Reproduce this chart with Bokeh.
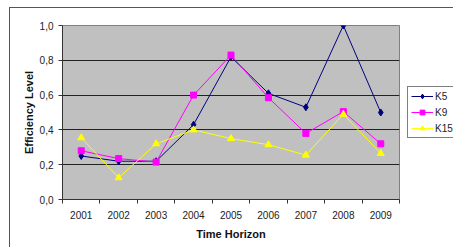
from bokeh.plotting import figure
from bokeh.models import (FixedTicker, CustomJSTickFormatter, Legend, LegendItem,
                          Range1d, ColumnDataSource)
from bokeh.embed import file_html
from bokeh.resources import INLINE

years = ["2001", "2002", "2003", "2004", "2005", "2006", "2007", "2008", "2009"]
k5 = [0.25, 0.22, 0.22, 0.43, 0.82, 0.61, 0.53, 1.00, 0.50]
k9 = [0.28, 0.235, 0.215, 0.60, 0.83, 0.585, 0.38, 0.505, 0.32]
k15 = [0.355, 0.125, 0.32, 0.40, 0.35, 0.315, 0.255, 0.49, 0.265]
y_ticks = [0.0, 0.2, 0.4, 0.6, 0.8, 1.0]

xpos = list(range(1, len(years) + 1))
src = ColumnDataSource(dict(x=xpos, k5=k5, k9=k9, k15=k15))

p = figure(frame_width=337, frame_height=174, output_backend="svg", toolbar_location=None,
           x_range=Range1d(0.5, len(years) + 0.5), y_range=Range1d(0, 1.0),
           min_border_left=62, min_border_right=0, min_border_top=25,
           min_border_bottom=48)
p.background_fill_color = "#C0C0C0"
p.border_fill_alpha = 0
p.styles = {"background": "linear-gradient(#555,#555) 9px 7px / 100% 1px no-repeat, "
                          "linear-gradient(#555,#555) 9px 7px / 1px 100% no-repeat, white"}
p.outline_line_color = "#808080"

font = "Liberation Sans"
# x axis
p.xaxis.ticker = FixedTicker(ticks=xpos, minor_ticks=[i + 0.5 for i in range(len(years) + 1)])
p.xaxis.major_label_overrides = {i + 1: y for i, y in enumerate(years)}
p.xaxis.major_tick_out = 0
p.xaxis.major_tick_in = 0
p.xaxis.minor_tick_out = 4
p.xaxis.minor_tick_in = 0
p.xaxis.minor_tick_line_color = "#333333"
p.xaxis.axis_line_color = "#333333"
p.xaxis.major_label_standoff = 7
p.xaxis.axis_label = "Time Horizon"
p.xaxis.axis_label_standoff = 6

# y axis
p.yaxis.ticker = FixedTicker(ticks=y_ticks, minor_ticks=[])
p.yaxis.formatter = CustomJSTickFormatter(code="return tick.toFixed(1).replace('.', ',');")
p.yaxis.major_tick_out = 4
p.yaxis.major_tick_in = 0
p.yaxis.major_tick_line_color = "#333333"
p.yaxis.axis_line_color = "#333333"
p.yaxis.major_label_standoff = 5
p.yaxis.axis_label = "Efficiency Level"
p.yaxis.axis_label_standoff = 2

for ax in (p.xaxis, p.yaxis):
    ax.major_label_text_font = font
    ax.major_label_text_font_size = "10px"
    ax.major_label_text_color = "#222222"
    ax.axis_label_text_font = font
    ax.axis_label_text_font_size = "11px"
    ax.axis_label_text_font_style = "bold"
    ax.axis_label_text_color = "#111111"

p.xgrid.visible = False
p.ygrid.ticker = FixedTicker(ticks=y_ticks[1:-1])
p.ygrid.grid_line_color = "#222222"
p.ygrid.grid_line_width = 1

l5 = p.line("x", "k5", source=src, color="#000080", line_width=1)
m5 = p.scatter("x", "k5", source=src, marker="diamond", size=7, color="#000080")
l9 = p.line("x", "k9", source=src, color="#FF00FF", line_width=1)
m9 = p.scatter("x", "k9", source=src, marker="square", size=6, color="#FF00FF")
l15 = p.line("x", "k15", source=src, color="#FFFF00", line_width=1)
m15 = p.scatter("x", "k15", source=src, marker="triangle", size=7, color="#FFFF00")

legend = Legend(items=[LegendItem(label="K5", renderers=[l5, m5]),
                       LegendItem(label="K9", renderers=[l9, m9]),
                       LegendItem(label="K15", renderers=[l15, m15])],
                location="center_left", margin=8, padding=3, spacing=4,
                glyph_width=22, glyph_height=12, label_height=12, label_standoff=2,
                label_text_font=font, label_text_font_size="10px",
                label_text_color="#222222", border_line_color="#000000",
                border_line_width=1, background_fill_color="white",
                background_fill_alpha=1)
p.add_layout(legend, "right")

open("out.html", "w").write(file_html(p, INLINE))
